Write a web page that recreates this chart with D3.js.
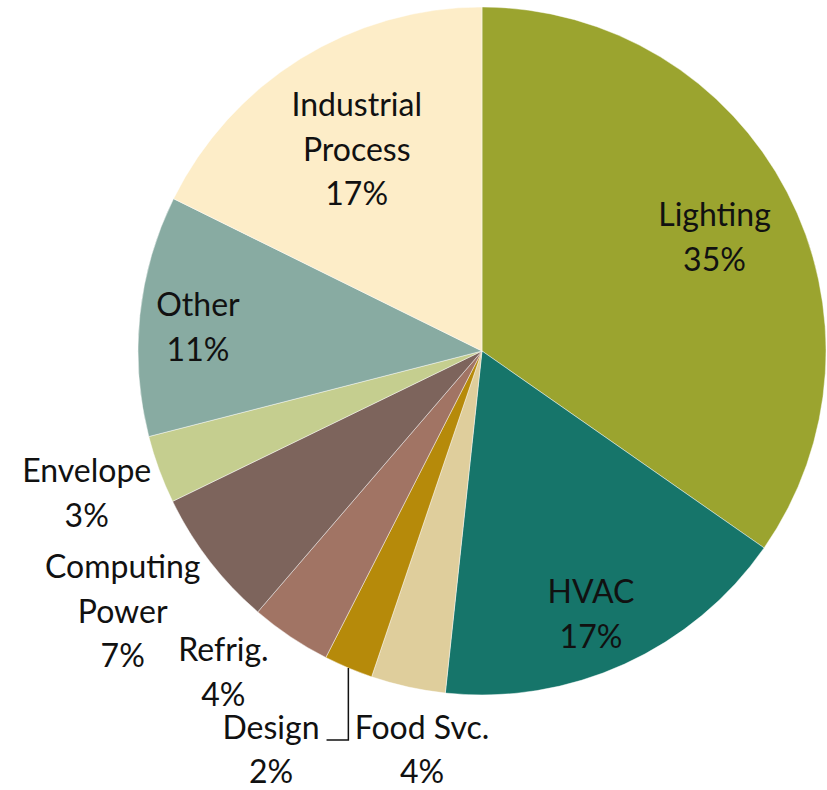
<!DOCTYPE html>
<html>
<head>
<meta charset="utf-8">
<script src="https://cdn.jsdelivr.net/npm/d3@7"></script>
<style>
  html, body { margin: 0; padding: 0; background: #ffffff; }
  svg text { font-family: Lato, "Open Sans", sans-serif; fill: #111; }
</style>
</head>
<body>
<svg id="chart" width="827" height="790"></svg>
<script>
// ---- data ----
const categories = ["Lighting", "HVAC", "Food Svc.", "Design", "Refrig.", "Computing Power", "Envelope", "Other", "Industrial Process"];
const values = [34.7, 17.0, 3.5, 2.3, 3.8, 6.5, 3.2, 11.3, 17.7];
const percentLabels = ["35%", "17%", "4%", "2%", "4%", "7%", "3%", "11%", "17%"];
const labelLines = [["Lighting"], ["HVAC"], ["Food Svc."], ["Design"], ["Refrig."], ["Computing", "Power"], ["Envelope"], ["Other"], ["Industrial", "Process"]];

// ---- styles / layout (kept apart from data) ----
const colors = ["#9BA42F", "#16756A", "#DFCE9C", "#B68A0A", "#A17464", "#7D645C", "#C5CE8F", "#88ABA2", "#FDEDC8"];
const cx = 482, cy = 351, R = 344;
const fontSize = 32, lineH = 44.5;
// label anchor: centre x and first baseline, relative to pie centre
const labelOffsets = [[232.5, -125], [109, 252], [-60, 388], [-211, 388], [-258.6, 310], [-359.3, 227], [-395.3, 131], [-284, -35], [-125.3, -235]];
const labelLineH = [lineH, lineH, 43.5, 43.5, lineH, lineH, lineH, lineH, lineH];
const leaderFor = ["Design"];

const svg = d3.select("#chart");
const g = svg.append("g").attr("transform", `translate(${cx},${cy})`);

const pie = d3.pie().sort(null).value(d => d.value);
const arc = d3.arc().innerRadius(0).outerRadius(R);

const data = categories.map((c, i) => ({ name: c, value: values[i], pct: percentLabels[i], lines: labelLines[i], color: colors[i], off: labelOffsets[i], lh: labelLineH[i] }));
const arcs = pie(data);

g.selectAll("path.slice")
  .data(arcs)
  .enter().append("path")
  .attr("class", "slice")
  .attr("d", arc)
  .attr("fill", d => d.data.color)
  .attr("stroke", "#ffffff")
  .attr("stroke-opacity", 0.55)
  .attr("stroke-width", 0.8);

const labels = g.selectAll("text.lbl")
  .data(arcs)
  .enter().append("text")
  .attr("class", "lbl")
  .attr("text-anchor", "middle")
  .attr("font-size", fontSize)
  .attr("x", d => d.data.off[0])
  .attr("y", d => d.data.off[1]);

labels.each(function(d) {
  const t = d3.select(this);
  const all = d.data.lines.concat([d.data.pct]);
  all.forEach((s, k) => {
    t.append("tspan").attr("x", d.data.off[0]).attr("y", d.data.off[1] + k * d.data.lh).text(s);
  });
});

// leader lines
arcs.filter(d => leaderFor.includes(d.data.name)).forEach(d => {
  const a = (d.startAngle + d.endAngle) / 2;
  const sx = R * Math.sin(a), sy = -R * Math.cos(a);
  const firstSpan = labels.filter(e => e === d).select("tspan").node();
  const w = firstSpan.getComputedTextLength();
  const right = d.data.off[0] + w / 2 + 7;
  const ey = d.data.off[1] + 1;
  g.append("path")
    .attr("d", d3.line()([[sx, sy], [sx, ey], [right, ey]]))
    .attr("fill", "none")
    .attr("stroke", "#111")
    .attr("stroke-width", 1.5);
});
</script>
</body>
</html>
